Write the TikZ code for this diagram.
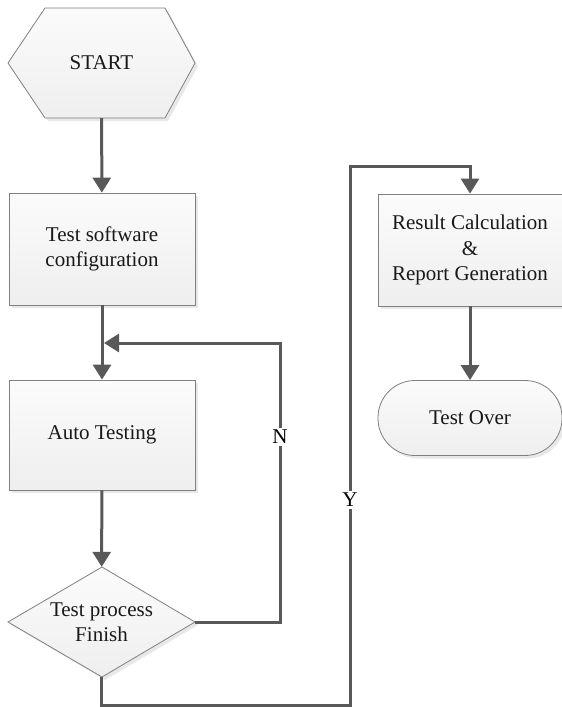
\documentclass[tikz,border=0pt]{standalone}
\usepackage{fontspec}
\setmainfont{Liberation Serif}
\usetikzlibrary{arrows.meta,shadows,calc}
\definecolor{linegray}{HTML}{595959}
\definecolor{edgegray}{HTML}{808080}
\tikzset{
  x=1pt, y=-1pt,
  shapefill/.style={draw=edgegray, line width=0.8pt, top color=gray!3, bottom color=gray!13,
    drop shadow={opacity=0.18, shadow xshift=3pt, shadow yshift=-3pt}},
  label/.style={font=\fontsize{21}{25.5}\selectfont, text=black!90, align=center, inner sep=0pt},
  procbox/.style={shapefill, label, minimum width=186pt, minimum height=112pt},
  anchorbox/.style={label, minimum width=#1, minimum height=110pt},
  arr/.style={draw=linegray, line width=3pt, -{Triangle[length=15pt,width=18pt]}},
  yn/.style={font=\fontsize{21}{25}\selectfont, fill=white, inner sep=2pt}
}
\begin{document}
\begin{tikzpicture}
\useasboundingbox (0,0) rectangle (562,707);

% start terminal (hexagon)
\path[shapefill] (8,63) -- (45,8) -- (165,8) -- (195,63) -- (165,118) -- (45,118) -- cycle;
\node[anchorbox=187pt, minimum height=110pt] (start) at (101.5,63) {START};

% process steps
\node[procbox] (conf) at (102,249) {Test software\\configuration};
\node[procbox, minimum height=110pt] (auto) at (102,435) {Auto Testing};

% decision (diamond)
\path[shapefill] (8,622) -- (102,567) -- (195,622) -- (102,677) -- cycle;
\node[anchorbox=187pt] (dec) at (101.5,622) {Test process\\Finish};

% right column
\node[procbox, minimum width=184pt] (res) at (470,250) {Result Calculation\\\&\\Report Generation};
\node[shapefill, label, minimum width=184pt, minimum height=75pt, rounded corners=37pt] (over) at (470,418) {Test Over};

% main flow
\draw[arr] (start) -- (conf);
\draw[arr] (conf) -- (auto);
\draw[arr] (auto) -- (dec);

% "N": loop back to the testing step
\coordinate (nturn) at (280,343);
\coordinate (join) at (104,343);
\draw[arr] (dec.east) -| (nturn) -- (join);
\node[yn] at (280,437) {N};

% "Y": go on to the result step
\coordinate (ybot) at (350,705);
\coordinate (ytop) at (350,166);
\draw[arr] (dec.south) |- (ybot) -- (ytop) -| (res.north);
\node[yn] at (350,500) {Y};

\draw[arr] (res) -- (over);
\end{tikzpicture}
\end{document}
